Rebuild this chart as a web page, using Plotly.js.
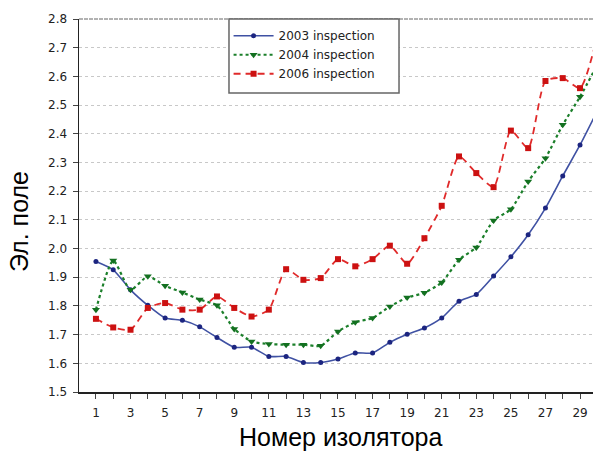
<!DOCTYPE html>
<html>
<head>
<meta charset="utf-8">
<script src="https://cdn.plot.ly/plotly-3.0.1.min.js"></script>
<style>body{margin:0;padding:0;background:#fff}#chart{width:593px;height:452px}</style>
</head>
<body>
<div id="chart"></div>
<script>
var insulators = [1,2,3,4,5,6,7,8,9,10,11,12,13,14,15,16,17,18,19,20,21,22,23,24,25,26,27,28,29,30];
var insp2003 = [1.955,1.926,1.856,1.802,1.758,1.750,1.727,1.690,1.656,1.656,1.624,1.624,1.603,1.603,1.615,1.636,1.636,1.673,1.701,1.723,1.758,1.816,1.840,1.904,1.971,2.048,2.141,2.253,2.361,2.48];
var insp2004 = [1.787,1.958,1.856,1.903,1.870,1.847,1.822,1.802,1.720,1.676,1.667,1.665,1.665,1.661,1.711,1.743,1.758,1.798,1.829,1.846,1.882,1.961,2.004,2.098,2.137,2.234,2.315,2.431,2.529,2.64];
var insp2006 = [1.755,1.725,1.717,1.793,1.810,1.787,1.787,1.833,1.793,1.763,1.787,1.928,1.891,1.897,1.963,1.938,1.963,2.010,1.947,2.036,2.149,2.321,2.263,2.214,2.411,2.350,2.584,2.594,2.559,2.74];
var seriesNames = ['2003 inspection','2004 inspection','2006 inspection'];
var yTicks = [1.5,1.6,1.7,1.8,1.9,2.0,2.1,2.2,2.3,2.4,2.5,2.6,2.7,2.8];
var yTickText = ['1.5','1.6','1.7','1.8','1.9','2.0','2.1','2.2','2.3','2.4','2.5','2.6','2.7','2.8'];
var xTitle = 'Номер изолятора';
var yTitle = 'Эл. поле';

var traces = [
  {x: insulators, y: insp2003, name: seriesNames[0], type: 'scatter', mode: 'lines+markers',
   line: {color: '#3f51a3', width: 1.6, shape: 'spline', smoothing: 0.6},
   marker: {symbol: 'circle', size: 5, color: '#1c2580'}},
  {x: insulators, y: insp2004, name: seriesNames[1], type: 'scatter', mode: 'lines+markers',
   line: {color: '#1b7f2a', width: 2.2, dash: 'dot', shape: 'spline', smoothing: 0.6},
   marker: {symbol: 'triangle-down', size: 7, color: '#137020'}},
  {x: insulators, y: insp2006, name: seriesNames[2], type: 'scatter', mode: 'lines+markers',
   line: {color: '#e02a2a', width: 1.8, dash: '7px,5px', shape: 'spline', smoothing: 0.6},
   marker: {symbol: 'square', size: 6, color: '#cc1111'}}
];

var smallFont = 'DejaVu Sans, sans-serif';
var bigFont = 'Liberation Sans, Arial, sans-serif';

var layout = {
  width: 593, height: 452,
  margin: {l: 79, r: 0, t: 19, b: 60, pad: 0},
  paper_bgcolor: '#fff', plot_bgcolor: '#fff',
  font: {family: smallFont, color: '#222'},
  showlegend: true,
  legend: {x: 0.291, y: 0.994, xanchor: 'left', yanchor: 'top',
           bgcolor: 'rgba(0,0,0,0)', borderwidth: 0,
           font: {size: 12, color: '#222', family: smallFont}, tracegroupgap: 0,
           itemwidth: 40},
  xaxis: {
    range: [0.02, 29.75], showgrid: false, zeroline: false,
    showline: true, linecolor: '#222', linewidth: 1.5,
    tickmode: 'linear', tick0: 1, dtick: 2,
    ticks: 'outside', ticklen: 5, tickcolor: '#444', tickwidth: 1,
    ticklabelstandoff: 4,
    minor: {dtick: 1, tick0: 1, ticks: 'outside', ticklen: 5, tickcolor: '#444', showgrid: false},
    tickfont: {size: 12, color: '#222', family: smallFont}
  },
  yaxis: {
    range: [1.5, 2.8], zeroline: false,
    showline: true, linecolor: '#222', linewidth: 1.5,
    tickmode: 'array', tickvals: yTicks, ticktext: yTickText,
    ticks: 'outside', ticklen: 5, tickcolor: '#444',
    ticklabelstandoff: 3,
    showgrid: true, gridcolor: '#c8c8c8', griddash: 'dot', gridwidth: 1,
    tickfont: {size: 12, color: '#222', family: smallFont}
  },
  annotations: [
    {text: xTitle, xref: 'paper', yref: 'paper', x: 0.51, y: -0.121,
     xanchor: 'center', yanchor: 'middle', showarrow: false,
     font: {size: 25, color: '#000', family: bigFont}},
    {text: yTitle, xref: 'paper', yref: 'paper', x: -0.117, y: 0.458, textangle: -90,
     xanchor: 'center', yanchor: 'middle', showarrow: false,
     font: {size: 25, color: '#000', family: bigFont}}
  ],
  shapes: [
    {type: 'line', xref: 'paper', yref: 'paper', x0: 0, x1: 1, y0: 1, y1: 1,
     line: {color: '#999', width: 1.5, dash: '4px,1px'}},
    {type: 'rect', xref: 'paper', yref: 'paper', x0: 0.2918, x1: 0.6226, y0: 0.8016, y1: 1,
     layer: 'above', fillcolor: '#fff', line: {color: '#666', width: 1.5}}
  ]
};

Plotly.newPlot('chart', traces, layout, {staticPlot: true, displayModeBar: false});
</script>
</body>
</html>
